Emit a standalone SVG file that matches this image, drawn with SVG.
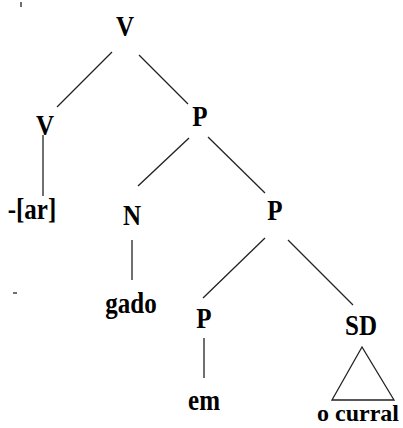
<svg xmlns="http://www.w3.org/2000/svg" width="403" height="428" viewBox="0 0 403 428">
<style>
text{font-family:"Liberation Serif","Times New Roman",serif;font-weight:bold;font-size:25px;fill:#000;text-anchor:middle}
.e{stroke:#222;stroke-width:1.3;fill:none}
</style>
<rect width="403" height="428" fill="#fff"/>
<g id="stray"><line x1="21" y1="2" x2="21" y2="7" class="e"/><line x1="13" y1="293" x2="17" y2="293" class="e"/></g>
<g id="connectors">
<line class="e" x1="112" y1="52" x2="57" y2="107"/>
<line class="e" x1="139" y1="55" x2="188" y2="104"/>
<line class="e" x1="43" y1="135" x2="43" y2="196"/>
<line class="e" x1="189" y1="138" x2="138" y2="186"/>
<line class="e" x1="208" y1="137" x2="265" y2="193"/>
<line class="e" x1="132" y1="240" x2="132" y2="280"/>
<line class="e" x1="265" y1="238" x2="203" y2="298"/>
<line class="e" x1="288" y1="240" x2="353" y2="305"/>
<line class="e" x1="204" y1="338" x2="204" y2="378"/>
<polygon class="e" points="362,347 332,400 394,400"/>
</g>
<g id="n-V-root" transform="translate(125,36) scale(1,1.15)"><text>V</text></g>
<g id="n-V" transform="translate(45,135) scale(1,1.15)"><text>V</text></g>
<g id="n-ar" transform="translate(32,219) scale(1,1.15)"><text>-[ar]</text></g>
<g id="n-P1" transform="translate(200,126) scale(1,1.15)"><text>P</text></g>
<g id="n-N" transform="translate(132,225) scale(1,1.15)"><text>N</text></g>
<g id="n-gado" transform="translate(131,313) scale(1,1.15)"><text>gado</text></g>
<g id="n-P2" transform="translate(275,220) scale(1,1.15)"><text>P</text></g>
<g id="n-P3" transform="translate(204,328) scale(1,1.15)"><text>P</text></g>
<g id="n-em" transform="translate(204,410) scale(1,1.15)"><text>em</text></g>
<g id="n-SD" transform="translate(361,335) scale(1,1.15)"><text>SD</text></g>
<g id="n-curral" transform="translate(358,421)"><text style="font-size:24px">o curral</text></g>
</svg>
